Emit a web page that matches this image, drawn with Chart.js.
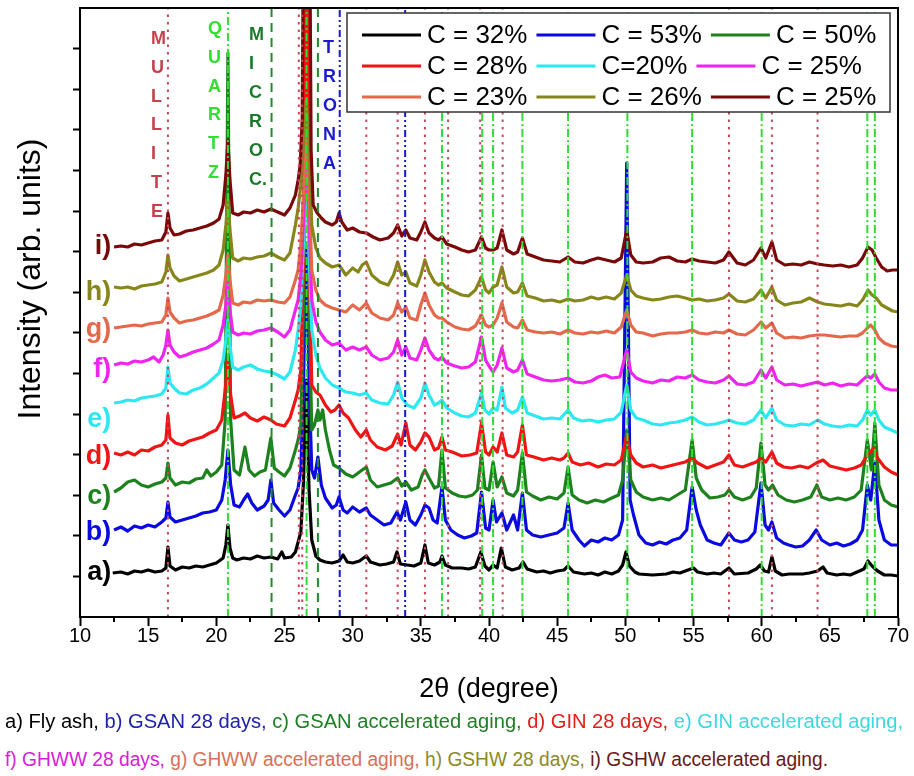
<!DOCTYPE html>
<html><head><meta charset="utf-8">
<script src="https://cdn.jsdelivr.net/npm/chart.js@4.4.1/dist/chart.umd.min.js"></script>
<style>
html,body{margin:0;padding:0;background:#fff;width:914px;height:776px;overflow:hidden;}
#wrap{position:absolute;left:0;top:0;width:914px;height:712px;}
.cl{position:absolute;left:5px;white-space:nowrap;font-family:"Liberation Sans",Arial,sans-serif;font-size:19.5px;line-height:22px;transform-origin:0 50%;}
</style></head><body>
<div id="wrap"><canvas id="c" width="914" height="712"></canvas></div>
<div class="cl" id="l1" style="top:710px"><span style="color:#000">a) Fly ash, </span><span style="color:#1e22b0">b) GSAN 28 days, </span><span style="color:#1f7f25">c) GSAN accelerated aging, </span><span style="color:#e0201a">d) GIN 28 days, </span><span style="color:#3cd8e2">e) GIN accelerated aging,</span></div>
<div class="cl" id="l2" style="top:748px"><span style="color:#d820d8">f) GHWW 28 days, </span><span style="color:#d87058">g) GHWW accelerated aging, </span><span style="color:#8a8a28">h) GSHW 28 days, </span><span style="color:#6a1818">i) GSHW accelerated aging.</span></div>
<script>
// ---------------- DATA (2θ in degree, intensity in arb. units incl. stacking offset) ----------------
const traceA = [[12.4,44],[13,45],[13.5,43],[14,46],[14.5,45],[15,47],[15.5,45],[16,46],[16.3,49],[16.45,70],[16.6,51],[17,47],[17.5,50],[18,49],[18.5,51],[19,50],[19.5,52],[20,54],[20.5,59],[20.7,72],[20.85,92],[21,69],[21.2,59],[21.5,57],[22,59],[22.5,58],[23,61],[23.5,59],[24,60],[24.5,58],[24.8,65],[25,59],[25.5,60],[25.8,65],[26,75],[26.2,85],[26.4,137],[26.6,237],[26.8,127],[27,77],[27.3,61],[27.6,57],[28,55],[28.5,54],[29,56],[29.3,62],[29.6,55],[30,54],[30.5,56],[31,61],[31.3,55],[32,52],[32.5,53],[33,55],[33.25,65],[33.5,53],[34,52],[34.5,51],[35,54],[35.3,72],[35.55,54],[36,52],[36.4,55],[36.55,61],[36.8,52],[37.3,49],[38,49],[38.5,48],[39,50],[39.4,65],[39.7,51],[40,47],[40.3,52],[40.6,49],[40.9,69],[41.2,50],[41.7,47],[42.2,49],[42.5,55],[42.8,48],[43.5,45],[44,46],[44.5,44],[45,46],[45.5,47],[45.8,51],[46.2,45],[47,43],[47.5,44],[48,42],[48.5,45],[49,43],[49.5,46],[49.8,52],[50.05,65],[50.3,51],[50.7,45],[51,43],[52,42],[53,43],[53.5,45],[54,44],[54.6,47],[55,49],[55.3,45],[56,43],[56.5,44],[57,43],[57.6,49],[58,43],[59,44],[59.6,48],[59.9,52],[60.2,46],[60.5,45],[60.75,60],[61,46],[61.5,42],[62,43],[63,43],[63.5,44],[64.1,46],[64.5,50],[64.8,44],[65.5,42],[66,43],[66.5,42],[67,45],[67.5,48],[67.8,56],[68.1,51],[68.5,46],[69,42],[69.5,42],[70,41]];
const traceB = [[12.5,87],[13,90],[13.5,86],[14,91],[14.5,89],[15,92],[15.5,90],[16,95],[16.3,99],[16.45,115],[16.6,100],[17,95],[17.5,97],[18,99],[18.5,101],[19,104],[19.5,105],[20,107],[20.4,117],[20.65,137],[20.85,167],[21.05,132],[21.3,112],[21.7,110],[22,117],[22.3,123],[22.6,114],[23,107],[23.5,111],[23.8,117],[24,137],[24.2,114],[24.6,107],[25,101],[25.4,107],[25.8,122],[26,129],[26.2,147],[26.4,237],[26.6,367],[26.8,237],[27,147],[27.2,139],[27.45,160],[27.7,132],[28,119],[28.5,109],[28.8,112],[29,120],[29.3,107],[29.6,104],[30,110],[30.5,105],[31,109],[31.3,102],[31.8,97],[32.3,92],[32.8,94],[33.25,105],[33.5,97],[33.9,115],[34.2,97],[34.6,92],[35,102],[35.3,112],[35.6,109],[35.9,97],[36.2,94],[36.55,130],[36.8,97],[37.2,87],[37.7,82],[38.2,79],[38.7,81],[39.1,84],[39.45,125],[39.75,89],[40,87],[40.3,117],[40.55,95],[40.95,104],[41.3,87],[41.8,102],[42.1,87],[42.45,124],[42.75,87],[43.2,82],[43.8,80],[44.4,82],[45,84],[45.5,89],[45.8,114],[46.1,87],[46.6,77],[47,71],[47.5,77],[48,75],[48.5,79],[49,77],[49.5,82],[49.8,97],[50.1,454],[50.35,117],[50.6,102],[51,82],[51.5,74],[52,72],[52.5,75],[53,73],[53.5,77],[54,79],[54.5,87],[54.9,130],[55.2,107],[55.5,92],[56,77],[56.5,74],[57,72],[57.6,84],[58,77],[58.5,75],[59,77],[59.5,85],[59.95,134],[60.25,92],[60.5,87],[60.75,95],[61.1,79],[61.6,74],[62,72],[62.5,70],[63,71],[63.5,77],[64,87],[64.4,77],[65,72],[65.5,74],[66,71],[66.5,73],[67,77],[67.4,87],[67.75,132],[68,117],[68.3,154],[68.6,97],[69,77],[69.5,72],[70,72]];
const traceC = [[12.5,125],[13,129],[13.5,135],[14,137],[14.5,132],[15,130],[15.5,133],[16,135],[16.3,139],[16.45,154],[16.6,139],[17,132],[17.5,135],[18,134],[18.5,138],[19,139],[19.3,147],[19.6,141],[20,145],[20.4,152],[20.65,197],[20.85,564],[21.05,197],[21.3,147],[21.7,142],[22.1,170],[22.4,147],[22.8,141],[23.2,145],[23.6,147],[24,179],[24.25,149],[24.6,145],[25,141],[25.4,149],[25.8,167],[26,177],[26.2,192],[26.4,317],[26.6,717],[26.8,317],[27,187],[27.2,192],[27.45,207],[27.6,197],[27.8,207],[28,187],[28.3,167],[28.6,152],[29,149],[29.5,143],[30,140],[30.5,145],[31,150],[31.3,137],[31.8,130],[32.3,132],[32.8,134],[33.3,139],[33.6,131],[33.9,135],[34.3,127],[34.8,130],[35.1,142],[35.3,147],[35.6,139],[36,129],[36.3,131],[36.55,167],[36.8,129],[37.3,124],[37.8,121],[38.3,120],[38.8,122],[39.15,127],[39.45,162],[39.7,129],[40,127],[40.3,155],[40.6,130],[40.95,140],[41.3,124],[41.8,121],[42.1,127],[42.45,164],[42.75,125],[43.2,121],[43.8,117],[44.4,120],[45,118],[45.5,124],[45.8,150],[46.1,122],[46.6,117],[47.2,114],[47.8,117],[48.4,115],[49,119],[49.5,122],[49.8,137],[50.1,187],[50.4,137],[50.8,125],[51.3,120],[52,117],[52.6,119],[53.2,117],[53.8,122],[54.4,127],[54.9,177],[55.2,139],[55.6,127],[56.2,119],[56.8,120],[57.3,122],[57.6,127],[58,120],[58.6,117],[59.2,120],[59.6,129],[59.95,174],[60.25,132],[60.5,127],[60.8,132],[61.2,122],[61.8,117],[62.4,115],[63,117],[63.6,120],[64.05,132],[64.4,120],[65,117],[65.6,119],[66.2,117],[66.8,120],[67.3,127],[67.75,177],[68.05,147],[68.3,194],[68.6,132],[69,117],[69.5,112],[70,110]];
const traceD = [[12.5,164],[13,162],[13.5,165],[14,162],[14.5,167],[15,166],[15.5,170],[16,172],[16.3,177],[16.45,202],[16.6,179],[17,174],[17.5,172],[18,176],[18.5,178],[19,180],[19.5,184],[20,187],[20.4,197],[20.65,227],[20.85,257],[21.05,222],[21.3,199],[21.7,201],[22.1,204],[22.5,199],[23,196],[23.5,200],[24,197],[24.4,193],[25,191],[25.4,199],[25.8,217],[26,227],[26.2,247],[26.4,367],[26.6,717],[26.8,367],[27,232],[27.3,225],[27.6,222],[28,212],[28.4,205],[28.7,207],[29,212],[29.3,204],[29.7,199],[30.2,187],[30.6,180],[31,187],[31.3,177],[31.8,170],[32.4,167],[32.9,171],[33.3,183],[33.55,172],[33.9,194],[34.2,172],[34.6,167],[35,175],[35.3,184],[35.6,180],[36,167],[36.3,169],[36.55,180],[36.8,167],[37.3,165],[38,161],[38.6,162],[39.1,164],[39.45,194],[39.75,165],[40,162],[40.3,170],[40.6,165],[40.95,184],[41.3,162],[41.8,160],[42.1,165],[42.45,192],[42.75,162],[43.3,160],[44,157],[44.6,159],[45.2,157],[45.5,159],[45.8,164],[46.1,155],[46.7,152],[47.3,154],[48,150],[48.6,153],[49.2,152],[49.7,157],[50.1,182],[50.4,162],[50.8,154],[51.3,150],[52,152],[52.6,149],[53.2,151],[53.8,153],[54.4,155],[54.9,159],[55.3,154],[56,149],[56.6,152],[57.2,155],[57.6,162],[58,152],[58.6,150],[59.2,153],[59.6,155],[59.95,159],[60.3,155],[60.75,165],[61.1,154],[61.6,150],[62.2,149],[62.8,151],[63.4,149],[64,154],[64.5,157],[65,151],[65.6,149],[66.2,147],[66.8,149],[67.3,152],[67.75,162],[68,165],[68.2,169],[68.5,159],[69,150],[69.5,145],[70,142]];
const traceE = [[12.5,214],[13,215],[13.5,217],[14,216],[14.5,219],[15,220],[15.5,221],[16,223],[16.3,229],[16.45,250],[16.6,234],[16.9,229],[17.3,224],[17.8,223],[18.3,227],[18.8,229],[19.3,233],[19.8,239],[20.2,244],[20.5,257],[20.7,277],[20.85,297],[21,272],[21.2,250],[21.6,247],[22,250],[22.5,252],[23,248],[23.5,246],[24,245],[24.5,242],[25,238],[25.4,245],[25.8,267],[26,287],[26.2,312],[26.4,377],[26.6,437],[26.8,367],[27,287],[27.3,262],[27.6,249],[28,239],[28.5,232],[29,229],[29.5,225],[30,224],[30.5,222],[31,224],[31.4,217],[32,214],[32.6,213],[33,222],[33.3,235],[33.6,219],[34,212],[34.5,209],[35,219],[35.3,234],[35.6,222],[36,212],[36.3,214],[36.55,217],[36.9,209],[37.5,204],[38,201],[38.5,200],[39,204],[39.45,224],[39.7,207],[40,203],[40.3,209],[40.6,207],[40.95,230],[41.2,209],[41.7,204],[42.1,207],[42.45,220],[42.8,204],[43.4,201],[44,198],[44.6,199],[45.2,198],[45.8,207],[46.2,199],[46.8,196],[47.4,197],[48,195],[48.6,197],[49.2,198],[49.7,205],[50.1,232],[50.4,207],[50.8,199],[51.3,197],[52,193],[52.6,192],[53.2,194],[53.8,195],[54.4,197],[54.9,200],[55.4,195],[56,192],[56.6,193],[57.2,195],[57.6,197],[58.2,194],[58.8,193],[59.4,197],[59.95,207],[60.3,199],[60.75,209],[61.1,197],[61.7,192],[62.3,191],[62.9,193],[63.5,192],[64.1,197],[64.6,193],[65.2,191],[65.8,190],[66.4,192],[67,191],[67.4,197],[67.75,207],[68,202],[68.3,207],[68.6,197],[69,190],[69.5,187],[70,184]];
const traceF = [[12.5,252],[13,254],[13.5,253],[14,256],[14.5,255],[15,257],[15.4,260],[15.8,255],[16.1,262],[16.3,272],[16.45,287],[16.6,272],[16.9,265],[17.3,260],[17.8,262],[18.3,265],[18.8,267],[19.3,269],[19.8,273],[20.2,277],[20.5,292],[20.7,312],[20.85,337],[21,307],[21.2,285],[21.6,282],[22,284],[22.5,283],[23,286],[23.5,287],[24,289],[24.5,285],[25,280],[25.4,287],[25.8,307],[26,317],[26.2,342],[26.4,397],[26.6,467],[26.8,397],[27,317],[27.3,295],[27.6,285],[28,277],[28.5,272],[29,274],[29.5,267],[30,270],[30.5,267],[31,270],[31.4,262],[32,257],[32.6,259],[33,265],[33.3,277],[33.6,262],[33.9,270],[34.2,259],[34.7,257],[35,267],[35.3,279],[35.6,267],[36,259],[36.3,257],[36.55,260],[36.9,254],[37.5,251],[38,249],[38.5,250],[39,255],[39.45,280],[39.75,257],[40,251],[40.3,245],[40.6,252],[40.95,269],[41.3,249],[41.8,245],[42.1,247],[42.45,257],[42.8,243],[43.4,240],[44,237],[44.6,236],[45.2,237],[45.8,239],[46.3,235],[46.9,234],[47.5,236],[48,240],[48.5,242],[49,239],[49.6,240],[50.1,267],[50.4,245],[50.8,239],[51.3,236],[52,234],[52.6,237],[53.2,236],[53.8,240],[54.4,239],[54.9,242],[55.4,237],[56,235],[56.6,234],[57.2,237],[57.6,241],[58.2,233],[58.8,232],[59.4,235],[59.95,247],[60.3,239],[60.75,250],[61.1,237],[61.7,232],[62.3,233],[62.9,231],[63.5,233],[64.1,235],[64.6,232],[65.2,234],[65.8,231],[66.4,233],[67,232],[67.4,237],[67.75,241],[68,239],[68.3,243],[68.6,235],[69,229],[69.5,227],[70,227]];
const traceG = [[12.5,289],[13,290],[13.5,291],[14,292],[14.5,291],[15,293],[15.5,294],[16,295],[16.3,302],[16.45,319],[16.6,305],[16.9,299],[17.3,294],[17.8,296],[18.3,297],[18.8,299],[19.3,301],[19.8,304],[20.2,307],[20.5,322],[20.7,342],[20.85,362],[21,337],[21.2,314],[21.6,312],[22,315],[22.5,314],[23,317],[23.5,316],[24,317],[24.5,315],[25,314],[25.4,320],[25.8,337],[26,347],[26.2,372],[26.4,427],[26.6,487],[26.8,427],[27,347],[27.3,327],[27.6,317],[28,312],[28.5,309],[29,307],[29.5,305],[30,312],[30.5,307],[31,314],[31.4,304],[32,299],[32.6,297],[33,302],[33.3,314],[33.6,305],[33.9,310],[34.2,299],[34.7,297],[35,312],[35.3,324],[35.6,312],[36,302],[36.3,299],[36.55,299],[36.9,295],[37.5,290],[38,288],[38.5,287],[39,291],[39.45,302],[39.75,292],[40,290],[40.3,292],[40.6,299],[40.95,314],[41.3,295],[41.8,290],[42.1,289],[42.45,297],[42.8,287],[43.4,285],[44,284],[44.6,285],[45.2,283],[45.8,287],[46.3,284],[46.9,283],[47.5,285],[48,284],[48.6,286],[49.2,284],[49.7,290],[50.1,307],[50.4,292],[50.8,285],[51.3,284],[52,281],[52.6,283],[53.2,284],[53.8,284],[54.4,285],[54.9,287],[55.4,284],[56,283],[56.6,285],[57.2,284],[57.6,287],[58.2,283],[58.8,282],[59.4,287],[59.95,295],[60.3,289],[60.75,294],[61.1,284],[61.7,279],[62.3,280],[62.9,279],[63.5,281],[64.1,282],[64.6,282],[65.2,281],[65.8,280],[66.4,281],[67,281],[67.4,284],[67.75,289],[68,292],[68.3,287],[68.6,279],[69,274],[69.5,271],[70,270]];
const traceH = [[12.5,330],[13,329],[13.5,330],[14,328],[14.5,331],[15,332],[15.5,333],[16,335],[16.3,345],[16.45,362],[16.6,349],[16.9,341],[17.3,336],[17.8,338],[18.3,340],[18.8,342],[19.3,344],[19.8,347],[20.2,352],[20.5,367],[20.7,392],[20.85,417],[21,387],[21.2,359],[21.6,356],[22,359],[22.5,358],[23,360],[23.5,361],[24,364],[24.5,360],[25,357],[25.4,364],[25.8,392],[26,409],[26.2,432],[26.4,477],[26.6,517],[26.8,467],[27,392],[27.3,369],[27.6,359],[28,354],[28.5,350],[29,352],[29.5,342],[30,349],[30.4,345],[30.7,352],[31,355],[31.4,342],[32,335],[32.6,332],[33,342],[33.3,355],[33.6,342],[33.9,345],[34.2,334],[34.7,331],[35,342],[35.3,357],[35.6,345],[36,335],[36.3,332],[36.55,334],[36.9,329],[37.5,325],[38,322],[38.5,321],[39,327],[39.45,340],[39.75,327],[40,324],[40.3,330],[40.6,332],[40.95,350],[41.3,330],[41.8,324],[42.1,325],[42.45,334],[42.8,321],[43.4,319],[44,316],[44.6,317],[45.2,315],[45.8,318],[46.3,316],[46.9,317],[47.5,320],[48,318],[48.6,320],[49.2,318],[49.7,324],[50.1,342],[50.4,327],[50.8,321],[51.3,319],[52,317],[52.6,318],[53.2,320],[53.8,321],[54.4,319],[54.9,317],[55.4,318],[56,316],[56.6,317],[57.2,319],[57.6,323],[58.2,316],[58.8,315],[59.4,318],[59.95,327],[60.3,319],[60.75,330],[61.1,317],[61.7,312],[62.3,314],[62.9,315],[63.5,319],[64.1,315],[64.6,313],[65.2,312],[65.8,311],[66.4,313],[67,311],[67.4,317],[67.8,327],[68.1,322],[68.4,319],[68.8,312],[69.2,309],[69.6,306],[70,305]];
const traceI = [[12.5,370],[13,371],[13.5,370],[14,373],[14.5,372],[15,374],[15.5,376],[16,377],[16.3,385],[16.45,404],[16.6,389],[16.9,382],[17.3,383],[17.8,386],[18.3,387],[18.8,389],[19.3,391],[19.8,394],[20.2,398],[20.5,412],[20.7,442],[20.85,477],[21,437],[21.2,404],[21.6,402],[22,405],[22.5,404],[23,407],[23.5,405],[24,408],[24.5,405],[25,402],[25.4,409],[25.8,422],[26,437],[26.15,452],[26.3,497],[26.45,817],[26.8,817],[26.95,467],[27.1,412],[27.4,404],[27.7,399],[28,395],[28.5,392],[28.8,395],[29,404],[29.2,395],[29.6,387],[30,389],[30.5,385],[31,384],[31.5,380],[32,377],[32.6,379],[33,384],[33.3,392],[33.6,381],[33.9,387],[34.2,379],[34.7,377],[35,385],[35.3,395],[35.6,384],[36,379],[36.3,377],[36.55,380],[36.9,373],[37.5,370],[38,367],[38.5,365],[39,367],[39.45,380],[39.75,369],[40,367],[40.3,367],[40.6,369],[40.95,387],[41.3,367],[41.8,363],[42.1,365],[42.45,379],[42.8,363],[43.4,360],[44,357],[44.6,356],[45.2,355],[45.8,360],[46.3,355],[46.9,354],[47.5,357],[48,359],[48.6,357],[49.2,355],[49.7,359],[50.1,387],[50.4,362],[50.8,355],[51.3,354],[52,355],[52.6,359],[53.2,360],[53.8,356],[54.4,355],[54.9,358],[55.4,356],[56,355],[56.6,354],[57.2,357],[57.6,365],[58.2,354],[58.8,352],[59.4,357],[59.95,369],[60.3,359],[60.75,375],[61.1,357],[61.7,352],[62.3,353],[62.9,352],[63.5,355],[64.1,353],[64.6,352],[65.2,351],[65.8,352],[66.4,350],[67,352],[67.4,359],[67.8,370],[68.1,367],[68.4,359],[68.8,350],[69.2,346],[69.6,347],[70,347]];

const traceNames = ['a)','b)','c)','d)','e)','f)','g)','h)','i)'];
const labelLevels = [44, 84, 120, 160, 197, 247, 287, 324, 370];   // y-level of the a) ... i) tags
const legendLabels = ['C = 32%','C = 53%','C = 50%','C = 28%','C=20%','C = 25%','C = 23%','C = 26%','C = 25%'];

const mulliteLines = [16.45, 26.05, 26.3, 31.0, 33.3, 35.3, 37.0, 39.35, 41.0, 57.6, 60.75, 64.1];
const quartzLines = [20.85, 26.62, 36.55, 39.5, 40.3, 42.45, 45.8, 50.15, 54.9, 60.0, 67.75, 68.3];
const microclineLines = [24.05, 27.45];
const tronaLines = [29.05, 33.85];

const xTickValues = [10,15,20,25,30,35,40,45,50,55,60,65,70];
const xMinorTicks = [12.5,17.5,22.5,27.5,32.5,37.5,42.5,47.5,52.5,57.5,62.5,67.5];
const yTickValues = [40.6,81.2,121.8,162.4,203,243.6,284.2,324.8,365.4,406,446.6,487.2,527.8,568.4];
const Y_MIN = 0, Y_MAX = 609;

// ---------------- STYLE ----------------
const FONT = '"Liberation Sans", Arial, Helvetica, sans-serif';
const traceColors = ['#000000','#0a0ae0','#1d821d','#f01515','#2ce8f0','#f024f0','#e4684a','#86861a','#7a0808'];

const phaseLabels = [
  {text:['M','U','L','L','I','T','E'], theta:15.21, top:578, step:28.8, color:'#c8404e'},
  {text:['Q','U','A','R','T','Z'], theta:19.39, top:588, step:28.8, color:'#33dd33'},
  {text:['M','I','C','R','O','C.'], theta:22.40, top:582, step:29.0, color:'#1a7a2a'},
  {text:['T','R','O','N','A'], theta:27.82, top:569, step:29.0, color:'#1a1ad0'}
];

function vlines(arr){
  const d = [];
  arr.forEach(v => { d.push({x:v, y:Y_MIN}); d.push({x:v, y:Y_MAX}); d.push({x:v, y:null}); });
  return d;
}

const traces = [traceA,traceB,traceC,traceD,traceE,traceF,traceG,traceH,traceI];
const datasets = traces.map((t,k) => ({
  label: legendLabels[k],
  data: t.map(p => ({x:p[0], y:p[1]})),
  borderColor: traceColors[k], backgroundColor: traceColors[k],
  borderWidth: 3.2, pointRadius: 0, tension: 0, order: 20 - k, clip: 0,
  borderJoinStyle: 'round'
}));
datasets.push(
  {label:'mullite', data:vlines(mulliteLines), borderColor:'#c8485a', borderWidth:2, borderDash:[2.5,5], pointRadius:0, spanGaps:false, order:3, clip:0},
  {label:'quartz', data:vlines(quartzLines), borderColor:'#30dd30', borderWidth:2, borderDash:[8,3,2,3], pointRadius:0, spanGaps:false, order:2, clip:0},
  {label:'microcline', data:vlines(microclineLines), borderColor:'#218a2c', borderWidth:2, borderDash:[9,6], pointRadius:0, spanGaps:false, order:1, clip:0},
  {label:'trona', data:vlines(tronaLines), borderColor:'#1818d0', borderWidth:2, borderDash:[7,3,2,3,2,3], pointRadius:0, spanGaps:false, order:0, clip:0}
);

const decor = {
  id: 'decor',
  afterDatasetsDraw(chart){
    const {ctx, chartArea:a, scales:{x, y}} = chart;
    ctx.save();
    // frame
    ctx.strokeStyle = '#000'; ctx.lineWidth = 2;
    ctx.strokeRect(a.left, a.top, a.right - a.left, a.bottom - a.top);
    // minor x ticks
    xMinorTicks.forEach(v => {
      const px = Math.round(x.getPixelForValue(v));
      ctx.beginPath(); ctx.moveTo(px, a.bottom); ctx.lineTo(px, a.bottom + 5); ctx.stroke();
    });
    // phase labels
    ctx.font = 'bold 18px ' + FONT; ctx.textBaseline = 'middle'; ctx.textAlign = 'left';
    phaseLabels.forEach(p => {
      ctx.fillStyle = p.color;
      const px = x.getPixelForValue(p.theta);
      p.text.forEach((ch, i) => ctx.fillText(ch, px, y.getPixelForValue(p.top - i * p.step)));
    });
    // trace tags
    ctx.font = 'bold 27px ' + FONT; ctx.textAlign = 'right';
    traceNames.forEach((n, k) => {
      ctx.fillStyle = traceColors[k];
      ctx.fillText(n, x.getPixelForValue(12.3), y.getPixelForValue(labelLevels[k]));
    });
    // y title
    ctx.save();
    ctx.translate(31, 279); ctx.rotate(-Math.PI / 2);
    ctx.font = '32px ' + FONT; ctx.fillStyle = '#000'; ctx.textAlign = 'center';
    ctx.fillText('Intensity (arb. units)', 0, 0);
    ctx.restore();
    // legend
    const L = {left:347, top:13, right:890, bottom:112, x0:362, rows:[35,66,97], line:59, gap:6, after:9};
    ctx.fillStyle = '#fff'; ctx.fillRect(L.left, L.top, L.right - L.left, L.bottom - L.top);
    ctx.strokeStyle = '#333'; ctx.lineWidth = 1.5; ctx.strokeRect(L.left, L.top, L.right - L.left, L.bottom - L.top);
    ctx.font = '26px ' + FONT; ctx.textAlign = 'left'; ctx.textBaseline = 'middle';
    for (let r = 0; r < 3; r++) {
      let cx = L.x0; const cy = L.rows[r];
      for (let c = 0; c < 3; c++) {
        const k = r * 3 + c;
        ctx.strokeStyle = traceColors[k]; ctx.lineWidth = 3;
        ctx.beginPath(); ctx.moveTo(cx, cy); ctx.lineTo(cx + L.line, cy); ctx.stroke();
        ctx.fillStyle = '#000';
        ctx.fillText(legendLabels[k], cx + L.line + L.gap, cy + 1);
        cx += L.line + L.gap + ctx.measureText(legendLabels[k]).width + L.after;
      }
    }
    ctx.restore();
  }
};

Chart.defaults.font.family = FONT;
Chart.defaults.color = '#000';

new Chart(document.getElementById('c'), {
  type: 'line',
  data: {datasets},
  options: {
    responsive: false, animation: false, devicePixelRatio: 1,
    layout: {padding: {left: 0, right: 16, top: 8, bottom: 0}},
    plugins: {legend: {display: false}, tooltip: {enabled: false}},
    scales: {
      x: {
        type: 'linear', min: 10, max: 70,
        afterBuildTicks(s){ s.ticks = xTickValues.map(v => ({value: v})); },
        ticks: {font: {size: 20, lineHeight: 1}, padding: 0, color: '#000', maxRotation: 0, autoSkip: false},
        grid: {drawOnChartArea: false, drawTicks: true, tickLength: 9, tickWidth: 2, tickColor: '#000'},
        border: {display: true, color: '#000', width: 2},
        title: {display: true, text: '2θ (degree)', font: {size: 27}, color: '#000', padding: {top: 0, bottom: 6}},
        afterFit(s){ s.height = 95; }
      },
      y: {
        type: 'linear', min: Y_MIN, max: Y_MAX,
        afterBuildTicks(s){ s.ticks = yTickValues.map(v => ({value: v})); },
        ticks: {display: false},
        grid: {drawOnChartArea: false, drawTicks: true, tickLength: 7, tickWidth: 2, tickColor: '#000'},
        border: {display: true, color: '#000', width: 2},
        afterFit(s){ s.width = 80; }
      }
    }
  },
  plugins: [decor]
});

// fit caption lines to the reference widths
[['l1', 898], ['l2', 823]].forEach(([id, w]) => {
  const el = document.getElementById(id);
  const nat = el.getBoundingClientRect().width;
  if (nat > 0) el.style.transform = 'scaleX(' + (w / nat).toFixed(4) + ')';
});
</script>
</body></html>
